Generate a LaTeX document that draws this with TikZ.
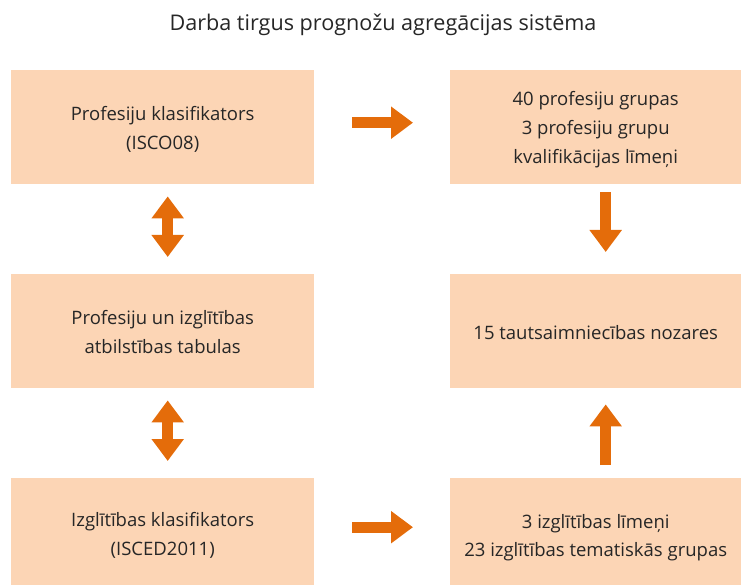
\documentclass[tikz,border=0pt]{standalone}
\usepackage{fontspec}
\setmainfont{Open Sans}
\usetikzlibrary{arrows.meta}
\definecolor{boxfill}{HTML}{FCD5B5}
\definecolor{arrorange}{HTML}{E46C0A}
\definecolor{txt}{HTML}{262626}
\begin{document}
\begin{tikzpicture}[x=1pt,y=-1pt,
  box/.style={fill=boxfill,draw=none,inner sep=0pt,anchor=north west},
  boxtext/.style={text=txt,align=center,inner sep=0pt,font=\fontsize{18.5}{28.8}\selectfont},
  blockarrow/.style={draw=arrorange,line width=11pt,line cap=butt,
    -{Triangle[width=31pt,length=22pt]}},
  dblarrow/.style={draw=arrorange,line width=10.5pt,line cap=butt,
    {Triangle[width=31pt,length=22pt]}-{Triangle[width=31pt,length=22pt]}}]
\useasboundingbox (0,0) rectangle (741,585);
\node[text=txt,font=\fontsize{21.6}{26}\selectfont] (title) at (383,25) {Darba tirgus prognožu agregācijas sistēma};
\node[box,minimum width=303pt,minimum height=114pt] (L1) at (11,70) {};
\node[box,minimum width=303pt,minimum height=114pt] (L2) at (11,274) {};
\node[box,minimum width=303pt,minimum height=107pt] (L3) at (11,478) {};
\node[box,minimum width=291pt,minimum height=114pt] (R1) at (450,70) {};
\node[box,minimum width=291pt,minimum height=114pt] (R2) at (450,274) {};
\node[box,minimum width=291pt,minimum height=107pt] (R3) at (450,478) {};
\node[boxtext] (L1t) at ([yshift=-2pt]L1.center) {Profesiju klasifikators\\(ISCO08)};
\node[boxtext] (L2t) at ([yshift=-1pt]L2.center) {Profesiju un izglītības\\atbilstības tabulas};
\node[boxtext] (L3t) at ([yshift=-4pt]L3.center) {Izglītības klasifikators\\(ISCED2011)};
\node[boxtext] (R1t) at ([yshift=-2.5pt]R1.center) {40 profesiju grupas\\3 profesiju grupu\\kvalifikācijas līmeņi};
\node[boxtext] (R2t) at ([yshift=-1pt]R2.center) {15 tautsaimniecības nozares};
\node[boxtext] (R3t) at ([yshift=-6pt]R3.center) {3 izglītības līmeņi\\23 izglītības tematiskās grupas};
% arrows
\draw[blockarrow] ([xshift=38pt,yshift=4.5pt]L1.east) -- ([xshift=-37pt,yshift=4.5pt]R1.west);
\draw[blockarrow] ([xshift=38pt,yshift=4.5pt]L3.east) -- ([xshift=-37pt,yshift=4.5pt]R3.west);
\draw[blockarrow] ([xshift=10pt,yshift=-8pt]R1.south) -- ([xshift=10pt,yshift=22pt]R2.north);
\draw[blockarrow] ([xshift=10pt,yshift=13pt]R3.north) -- ([xshift=10pt,yshift=-16pt]R2.south);
\draw[dblarrow] ([xshift=5pt,yshift=-12pt]L1.south) -- ([xshift=5pt,yshift=17pt]L2.north);
\draw[dblarrow] ([xshift=5pt,yshift=-12pt]L2.south) -- ([xshift=5pt,yshift=17pt]L3.north);
\end{tikzpicture}
\end{document}
